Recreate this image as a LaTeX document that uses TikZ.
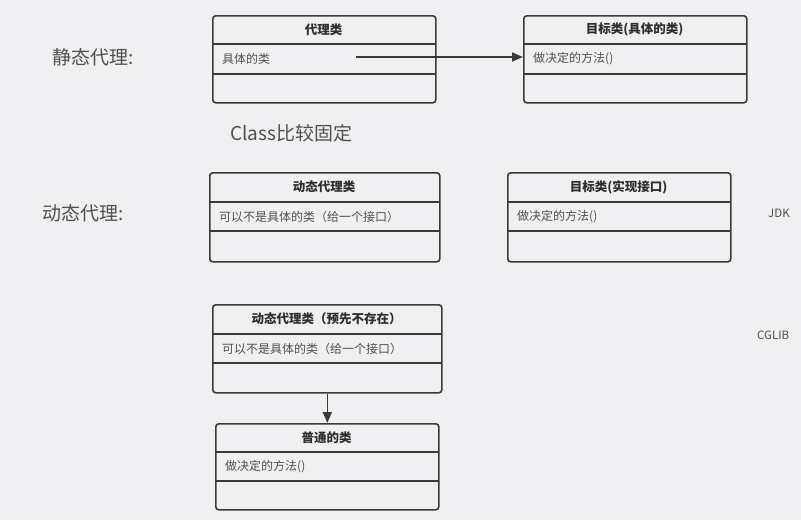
\documentclass[tikz,border=0pt]{standalone}
\usepackage{fontspec}
\setmainfont{Noto Sans CJK SC}
\usetikzlibrary{arrows.meta, calc, positioning}
\definecolor{bgGrey}{HTML}{F0EFF1}
\definecolor{lnGrey}{HTML}{3A3A3A}
\definecolor{txDark}{HTML}{2E2E2E}
\definecolor{txGrey}{HTML}{505050}
\tikzset{
  clsbox/.style   = {draw=lnGrey, line width=1.6pt, rounded corners=3pt, inner sep=0pt},
  clsline/.style  = {lnGrey, line width=1.6pt},
  clstitle/.style = {font=\fontsize{12.5}{14}\selectfont\bfseries, txDark, inner sep=0pt},
  clsrow/.style   = {font=\fontsize{12}{14}\selectfont, txGrey, anchor=west, inner sep=0pt},
  biglbl/.style   = {font=\fontsize{19}{22}\selectfont, txGrey, anchor=west, inner sep=0pt},
  sidelbl/.style  = {font=\fontsize{11.5}{13}\selectfont, txGrey, anchor=west, inner sep=0pt},
  assoc/.style    = {lnGrey, line width=1.6pt, -{Triangle[length=11pt, width=9pt]}},
}

\begin{document}
\begin{tikzpicture}[x=1pt, y=-1pt]
\fill[bgGrey] (0,0) rectangle (801,520);
\useasboundingbox (0,0) rectangle (801,520);

% ---- static proxy ---------------------------------------------------------
\node[biglbl] (staticLbl) at (52,57) {静态代理:};
\node[clsbox, anchor=north west, minimum width=223, minimum height=87] (proxy) at (212,15) {};
\draw[clsline] (212,44) -- (435,44);
\draw[clsline] (212,74) -- (435,74);
\node[clstitle] (proxyT) at (323.5,29.5) {代理类};
\node[clsrow] (proxyR) at (222,59) {具体的类};

\node[clsbox, anchor=north west, minimum width=223, minimum height=87] (target) at (523,15) {};
\draw[clsline] (523,44) -- (746,44);
\draw[clsline] (523,74) -- (746,74);
\node[clstitle] (targetT) at (634.5,29.5) {目标类(具体的类)};
\node[clsrow] (targetR) at (533,59) {做决定的方法()};

\coordinate (proxySrc) at (356,57);
\draw[assoc] (proxySrc) -- (target.west |- proxySrc);

\node[biglbl] (classLbl) at (230,133) {Class比较固定};

% ---- dynamic proxy: JDK ---------------------------------------------------
\node[biglbl] (dynLbl) at (42,213) {动态代理:};
\node[clsbox, anchor=north west, minimum width=230, minimum height=89] (jdkProxy) at (209,172) {};
\draw[clsline] (209,202) -- (439,202);
\draw[clsline] (209,231) -- (439,231);
\node[clstitle] (jdkProxyT) at (324,187) {动态代理类};
\node[clsrow] (jdkProxyR) at (219,216.5) {可以不是具体的类（给一个接口）};

\node[clsbox, anchor=north west, minimum width=223, minimum height=89] (jdkTarget) at (507,172) {};
\draw[clsline] (507,202) -- (730,202);
\draw[clsline] (507,231) -- (730,231);
\node[clstitle] (jdkTargetT) at (618.5,187) {目标类(实现接口)};
\node[clsrow] (jdkTargetR) at (517,216.5) {做决定的方法()};

\node[sidelbl] (jdkLbl) at (768,213) {JDK};

% ---- dynamic proxy: CGLIB -------------------------------------------------
\node[clsbox, anchor=north west, minimum width=229, minimum height=88] (cgProxy) at (212,304) {};
\draw[clsline] (212,334) -- (441,334);
\draw[clsline] (212,363) -- (441,363);
\node[clstitle] (cgProxyT) at (326.5,319) {动态代理类（预先不存在）};
\node[clsrow] (cgProxyR) at (222,348.5) {可以不是具体的类（给一个接口）};

\node[clsbox, anchor=north west, minimum width=223, minimum height=86] (plain) at (215,423) {};
\draw[clsline] (215,452) -- (438,452);
\draw[clsline] (215,481) -- (438,481);
\node[clstitle] (plainT) at (326.5,437.5) {普通的类};
\node[clsrow] (plainR) at (225,466.5) {做决定的方法()};

\draw[assoc] (cgProxy.south) -- (plain.north);

\node[sidelbl] (cgLbl) at (757,335) {CGLIB};
\end{tikzpicture}
\end{document}
